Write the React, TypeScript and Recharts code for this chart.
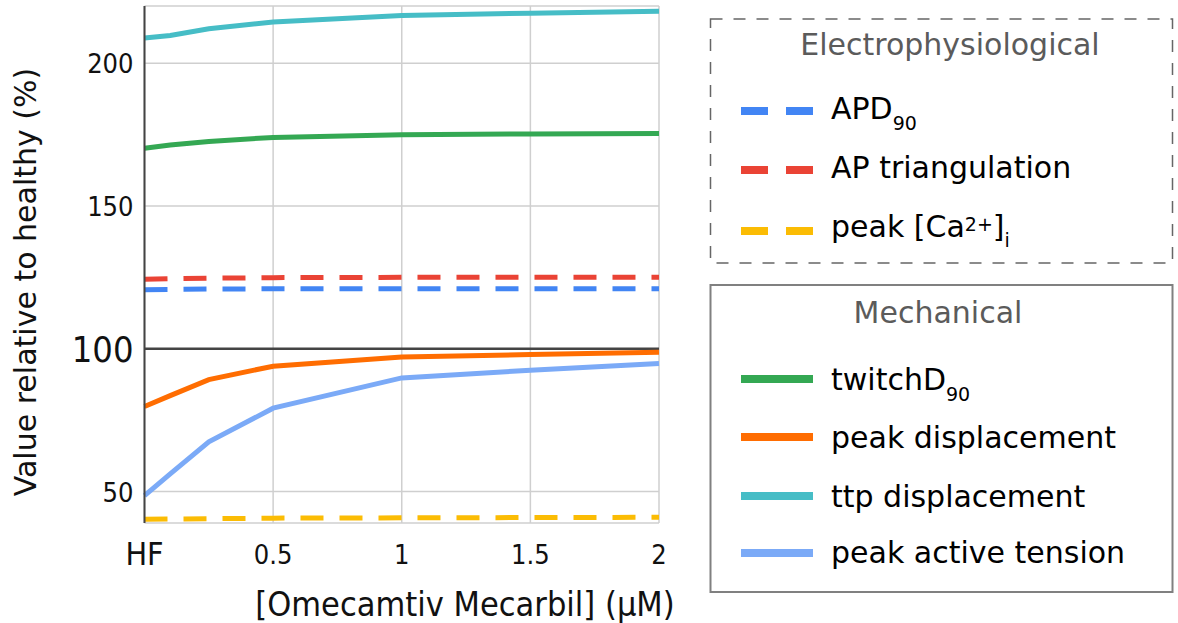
import { LineChart, Line, XAxis, YAxis, CartesianGrid, ReferenceLine } from "recharts"

// omecamtiv mecarbil dose (uM), 0 = HF baseline
const dose = [0, 0.1, 0.25, 0.5, 1, 1.5, 2]

// electrophysiological markers (% of healthy)
const apd90 = [120.7, 120.8, 120.9, 121, 121, 121, 121]
const apTriangulation = [124.3, 124.5, 124.7, 124.9, 125, 125, 125]
const peakCa = [40.3, 40.4, 40.5, 40.7, 40.8, 40.9, 41]

// mechanical markers (% of healthy)
const twitchD90 = [170.2, 171.3, 172.6, 174, 174.9, 175.2, 175.4]
const peakDisplacement = [79.8, 83.6, 89.2, 93.9, 97.1, 98, 98.8]
const ttpDisplacement = [208.8, 209.7, 212, 214.4, 216.7, 217.5, 218.2]
const peakActiveTension = [48.6, 56.2, 67.4, 79.2, 89.8, 92.5, 94.8]

const xTicks = [0, 0.5, 1, 1.5, 2]
const xTickLabels = ["HF", "0.5", "1", "1.5", "2"]
const yTicks = [50, 100, 150, 200]

const data = dose.map((d, i) => ({
  dose: d,
  apd90: apd90[i],
  apTriangulation: apTriangulation[i],
  peakCa: peakCa[i],
  twitchD90: twitchD90[i],
  peakDisplacement: peakDisplacement[i],
  ttpDisplacement: ttpDisplacement[i],
  peakActiveTension: peakActiveTension[i],
}))

const electroSeries = [
  { key: "apd90", color: "#4285F4" },
  { key: "apTriangulation", color: "#EA4335" },
  { key: "peakCa", color: "#FBBC04" },
]

const mechSeries = [
  { key: "twitchD90", color: "#34A853" },
  { key: "peakDisplacement", color: "#FF6D01" },
  { key: "ttpDisplacement", color: "#46BDC6" },
  { key: "peakActiveTension", color: "#7BAAF7" },
]

const W = 1178
const H = 623
const condensed = "'DejaVu Sans Condensed', 'DejaVu Sans', sans-serif"
const sans = "'DejaVu Sans', Verdana, sans-serif"

const XTick = (props: any) => {
  const { x, y, payload } = props
  const idx = xTicks.indexOf(payload.value)
  const isHF = payload.value === 0
  return (
    <text
      x={x}
      y={y + (isHF ? 42 : 41)}
      textAnchor="middle"
      fontFamily={condensed}
      fontStretch="condensed"
      fontSize={isHF ? 32 : 27}
      fill="#111"
    >
      {xTickLabels[idx]}
    </text>
  )
}

const YTick = (props: any) => {
  const { x, y, payload } = props
  const big = payload.value === 100
  return (
    <text
      x={x - 11}
      y={y + (big ? 13 : 10)}
      textAnchor="end"
      fontFamily={condensed}
      fontStretch="condensed"
      fontSize={big ? 36 : 27}
      fill="#111"
    >
      {payload.value}
    </text>
  )
}

const XTitle = () => (
  <text x={465} y={616} textAnchor="middle" fontFamily={condensed} fontStretch="condensed" fontSize={34} fill="#111">
    [Omecamtiv Mecarbil] (μM)
  </text>
)

const YTitle = () => (
  <text x={36} y={282} transform="rotate(-90 36 282)" textAnchor="middle" fontFamily={sans} fontSize={30} fill="#111">
    Value relative to healthy (%)
  </text>
)

const LegendBoxes = () => {
  const sampleX1 = 741
  const sampleX2 = 813
  const textX = 831
  return (
    <svg width={W} height={H} style={{ position: "absolute", left: 0, top: 0, pointerEvents: "none" }}>
      <g fontFamily={sans} fontSize={30}>
        <rect x={710.5} y={19} width={462} height={244} fill="none" stroke="#666" strokeWidth={1.5} strokeDasharray="12 11" />
        <text x={950} y={55} textAnchor="middle" fill="#5b5b5b">Electrophysiological</text>

        <line x1={sampleX1} x2={sampleX2} y1={111} y2={111} stroke={electroSeries[0].color} strokeWidth={8} strokeDasharray="27 18" />
        <text x={textX} y={119} fill="#000">
          APD<tspan dy={11} fontSize={19}>90</tspan>
        </text>

        <line x1={sampleX1} x2={sampleX2} y1={170} y2={170} stroke={electroSeries[1].color} strokeWidth={8} strokeDasharray="27 18" />
        <text x={textX} y={178} fill="#000">AP triangulation</text>

        <line x1={sampleX1} x2={sampleX2} y1={231} y2={231} stroke={electroSeries[2].color} strokeWidth={8} strokeDasharray="27 18" />
        <text x={textX} y={237} fill="#000">
          peak [Ca<tspan dy={-6} fontSize={19}>2+</tspan>
          <tspan dy={6}>]</tspan>
          <tspan dy={10} fontSize={19}>i</tspan>
        </text>

        <rect x={710.5} y={285} width={462} height={307} fill="none" stroke="#808080" strokeWidth={2} />
        <text x={938} y={323} textAnchor="middle" fill="#5b5b5b">Mechanical</text>

        <line x1={sampleX1} x2={sampleX2} y1={379} y2={379} stroke={mechSeries[0].color} strokeWidth={8} />
        <text x={textX} y={390} fill="#000">
          twitchD<tspan dy={11} fontSize={19}>90</tspan>
        </text>

        <line x1={sampleX1} x2={sampleX2} y1={437} y2={437} stroke={mechSeries[1].color} strokeWidth={8} />
        <text x={textX} y={448} fill="#000">peak displacement</text>

        <line x1={sampleX1} x2={sampleX2} y1={496} y2={496} stroke={mechSeries[2].color} strokeWidth={8} />
        <text x={textX} y={507} fill="#000">ttp displacement</text>

        <line x1={sampleX1} x2={sampleX2} y1={553} y2={553} stroke={mechSeries[3].color} strokeWidth={8} />
        <text x={textX} y={563} fill="#000">peak active tension</text>
      </g>
    </svg>
  )
}

export default function App() {
  return (
    <div style={{ position: "absolute", left: 0, top: 0, width: W, height: H, background: "#fff" }}>
      <LineChart width={W} height={H} data={data} margin={{ top: 6, right: 519, bottom: 0, left: 0 }}>
        <CartesianGrid stroke="#cfcfcf" strokeWidth={1.5} />
        <XAxis
          dataKey="dose"
          type="number"
          domain={[0, 2]}
          ticks={xTicks}
          axisLine={false}
          tickLine={false}
          tickSize={0}
          tickMargin={0}
          height={100}
          tick={<XTick />}
          interval={0}
          label={{ content: XTitle }}
        />
        <YAxis
          type="number"
          domain={[39, 220]}
          ticks={yTicks}
          allowDataOverflow
          width={144.5}
          axisLine={{ stroke: "#444", strokeWidth: 2 }}
          tickLine={false}
          tickSize={0}
          tickMargin={0}
          tick={<YTick />}
          interval={0}
          label={{ content: YTitle }}
        />
        <ReferenceLine y={100} stroke="#444" strokeWidth={2.5} />
        {electroSeries.map((s) => (
          <Line
            key={s.key}
            type="linear"
            dataKey={s.key}
            stroke={s.color}
            strokeWidth={5}
            strokeDasharray="23 16"
            dot={false}
            activeDot={false}
            isAnimationActive={false}
          />
        ))}
        {mechSeries.map((s) => (
          <Line
            key={s.key}
            type="linear"
            dataKey={s.key}
            stroke={s.color}
            strokeWidth={5}
            dot={false}
            activeDot={false}
            isAnimationActive={false}
          />
        ))}
      </LineChart>
      <LegendBoxes />
    </div>
  )
}
